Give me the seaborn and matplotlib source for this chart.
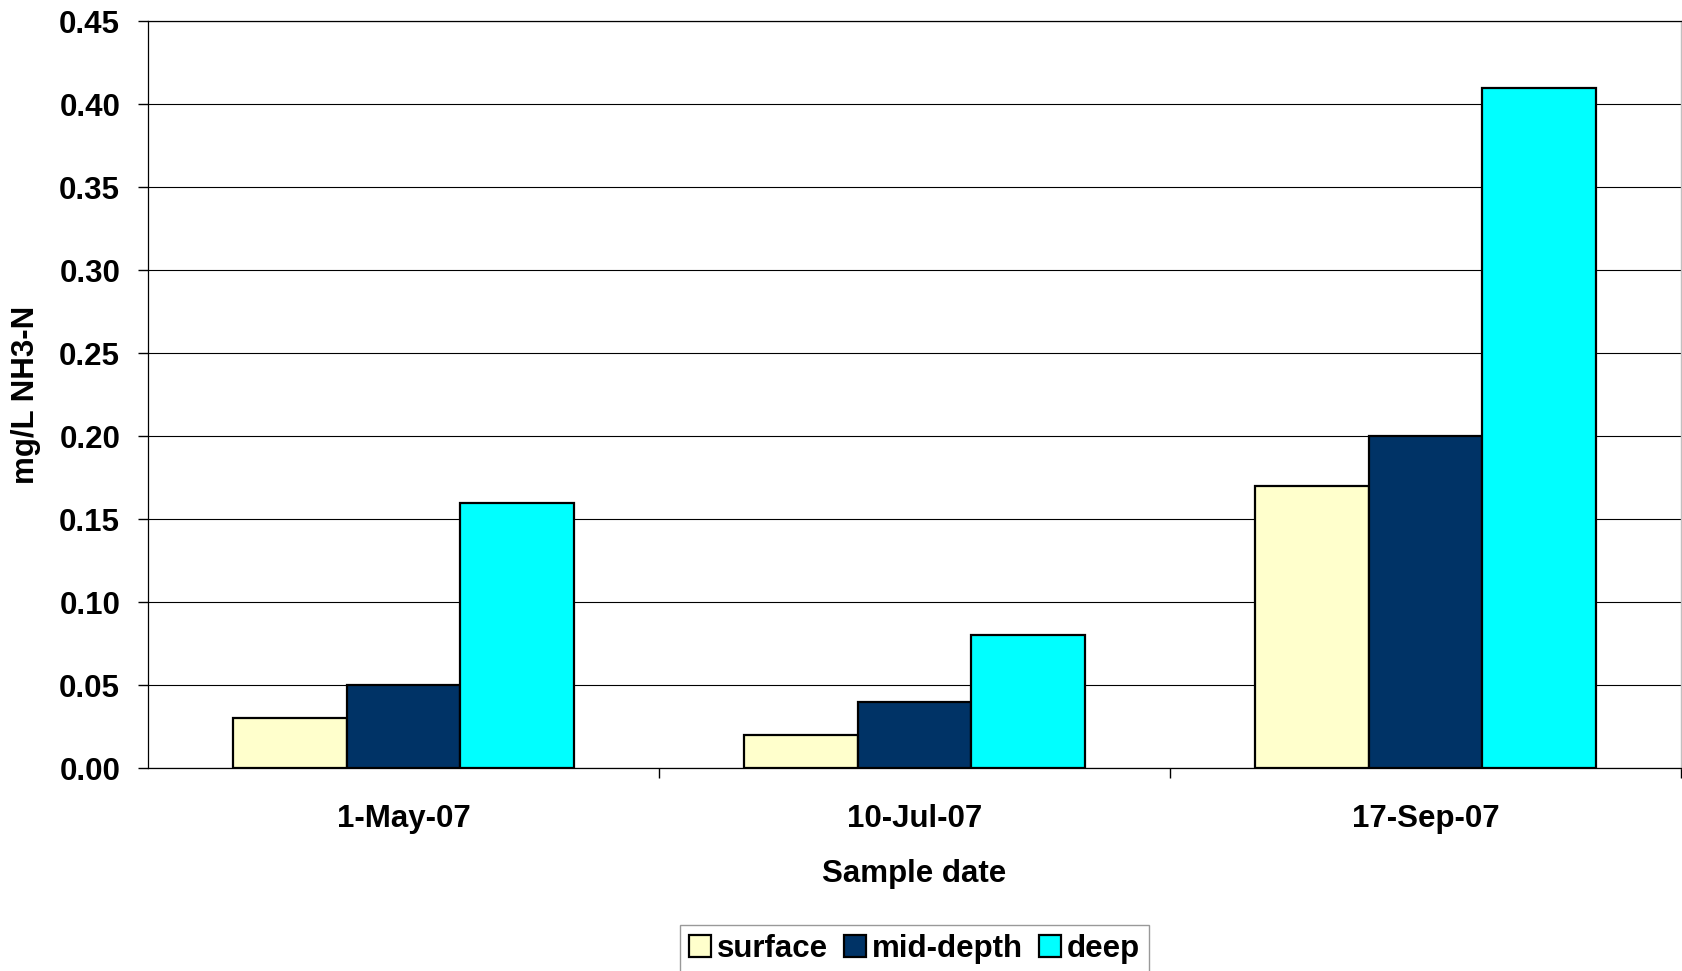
import matplotlib
matplotlib.use("Agg")
import matplotlib.pyplot as plt
import seaborn as sns
import pandas as pd
from matplotlib.ticker import FixedLocator, FormatStrFormatter

# Ammonia concentrations by sample date and depth
dates = ["1-May-07", "10-Jul-07", "17-Sep-07"]
depths = ["surface", "mid-depth", "deep"]
surface = [0.03, 0.02, 0.17]
mid_depth = [0.05, 0.04, 0.20]
deep = [0.16, 0.08, 0.41]
colors = ["#FFFFCC", "#003366", "#00FFFF"]
y_ticks = [0.00, 0.05, 0.10, 0.15, 0.20, 0.25, 0.30, 0.35, 0.40, 0.45]

rows = []
for name, vals in zip(depths, [surface, mid_depth, deep]):
    for d, v in zip(dates, vals):
        rows.append({"date": d, "depth": name, "value": v})
df = pd.DataFrame(rows)

sns.set_style("white")
plt.rcParams["font.family"] = ["Liberation Sans", "DejaVu Sans"]
plt.rcParams["font.weight"] = "bold"
plt.rcParams["text.color"] = "black"
plt.rcParams["axes.labelcolor"] = "black"
plt.rcParams["xtick.color"] = "black"
plt.rcParams["ytick.color"] = "black"

fig = plt.figure(figsize=(16.82, 9.71), dpi=100)
ax = fig.add_axes([0.088, 0.209, 0.9114, 0.769])

sns.barplot(data=df, x="date", y="value", hue="depth", order=dates,
            hue_order=depths, palette=colors, edgecolor="black",
            linewidth=1.6, width=0.667, saturation=1, ax=ax)

ax.set_ylim(0, 0.45)
ax.set_xlim(-0.5, 2.5)
ax.yaxis.set_major_locator(FixedLocator(y_ticks))
ax.yaxis.set_major_formatter(FormatStrFormatter("%.2f"))
ax.yaxis.grid(True, color="black", linewidth=0.8)
ax.set_axisbelow(True)

# category boundaries carry the tick marks; labels sit at centers
ax.xaxis.set_minor_locator(FixedLocator([0.5, 1.5, 2.5]))
ax.tick_params(axis="x", which="major", length=0, pad=26, labelsize=22.5,
               labelcolor="black")
ax.tick_params(axis="x", which="minor", length=7, width=1, color="black",
               direction="out", bottom=True)
ax.tick_params(axis="y", which="major", length=7, width=1, color="black",
               direction="out", left=True, pad=13, labelsize=22.5,
               labelcolor="black")
for lab in ax.get_xticklabels() + ax.get_yticklabels():
    lab.set_fontweight("bold")

ax.set_xlabel("Sample date", fontsize=22.5, fontweight="bold", labelpad=18,
              color="black")
ax.set_ylabel("mg/L NH3-N", fontsize=22.5, fontweight="bold", labelpad=13,
              color="black")

for side in ["left", "bottom", "top"]:
    ax.spines[side].set_color("black")
    ax.spines[side].set_linewidth(0.9)
ax.spines["right"].set_color("#c0c0c0")
ax.spines["right"].set_linewidth(1.0)

handles, labels = ax.get_legend_handles_labels()
if ax.get_legend() is not None:
    ax.get_legend().remove()
leg = fig.legend(handles, labels, loc="upper center",
                 bbox_to_anchor=(0.5437, 0.0474), bbox_transform=fig.transFigure,
                 ncol=3, frameon=True, fancybox=False, shadow=False,
                 edgecolor="#808080", handlelength=0.7, handleheight=0.7,
                 handletextpad=0.2, columnspacing=0.5, borderpad=0.3,
                 borderaxespad=0.0, labelcolor="black",
                 prop={"size": 22.5, "weight": "bold"})
leg.get_frame().set_linewidth(1.0)

fig.savefig("out.png", dpi=100)
